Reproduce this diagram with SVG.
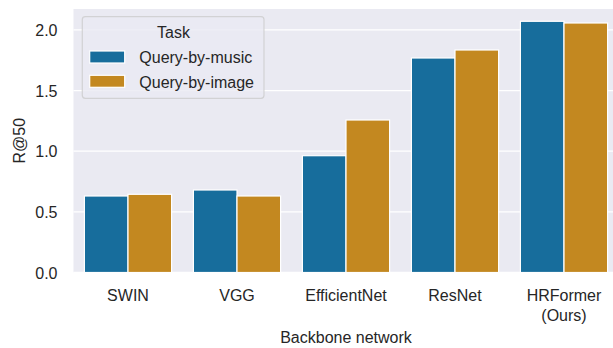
<svg xmlns="http://www.w3.org/2000/svg" width="613" height="348" viewBox="0 0 613 348">
<style>
text{font-family:"Liberation Sans",Arial,sans-serif;font-size:16px;fill:#262626}
.grid{stroke:#ffffff;stroke-width:1.3}
.bar{stroke:#ffffff;stroke-width:1.2}
.m{fill:#176D9C}
.i{fill:#C38820}
.yt{text-anchor:end}
.xt{text-anchor:middle}
</style>
<rect x="0" y="0" width="613" height="348" fill="#ffffff"/>
<g id="axes">
<rect x="73.5" y="9" width="540" height="263.5" fill="#EAEAF2"/>
<g id="gridlines">
<line class="grid" x1="73.5" y1="272.5" x2="613" y2="272.5"/>
<line class="grid" x1="73.5" y1="211.9" x2="613" y2="211.9"/>
<line class="grid" x1="73.5" y1="151.2" x2="613" y2="151.2"/>
<line class="grid" x1="73.5" y1="90.6" x2="613" y2="90.6"/>
<line class="grid" x1="73.5" y1="29.9" x2="613" y2="29.9"/>
</g>
<g id="yticks">
<text class="yt" x="57.5" y="278.5">0.0</text>
<text class="yt" x="57.5" y="217.9">0.5</text>
<text class="yt" x="57.5" y="157.2">1.0</text>
<text class="yt" x="57.5" y="96.6">1.5</text>
<text class="yt" x="57.5" y="35.9">2.0</text>
</g>
<text id="ylabel" x="25" y="140.7" text-anchor="middle" transform="rotate(-90 25 140.7)">R@50</text>
</g>
<g id="bar-SWIN">
<rect class="bar m" x="84.4" y="196" width="43.6" height="76.5"/>
<rect class="bar i" x="128" y="194.3" width="43.6" height="78.2"/>
<text class="xt" x="128" y="301">SWIN</text>
</g>
<g id="bar-VGG">
<rect class="bar m" x="193.4" y="190" width="43.6" height="82.5"/>
<rect class="bar i" x="237" y="196" width="43.6" height="76.5"/>
<text class="xt" x="237" y="301">VGG</text>
</g>
<g id="bar-EfficientNet">
<rect class="bar m" x="302.4" y="155.7" width="43.6" height="116.8"/>
<rect class="bar i" x="346" y="120" width="43.6" height="152.5"/>
<text class="xt" x="346" y="301">EfficientNet</text>
</g>
<g id="bar-ResNet">
<rect class="bar m" x="411.4" y="58" width="43.6" height="214.5"/>
<rect class="bar i" x="455" y="50" width="43.6" height="222.5"/>
<text class="xt" x="455" y="301">ResNet</text>
</g>
<g id="bar-HRFormer">
<rect class="bar m" x="520.4" y="21.3" width="43.6" height="251.2"/>
<rect class="bar i" x="564" y="23" width="43.6" height="249.5"/>
<text class="xt" x="564" y="301">HRFormer</text>
<text class="xt" x="564" y="320.5">(Ours)</text>
</g>
<text id="xlabel" x="346" y="343.3" text-anchor="middle">Backbone network</text>
<g id="legend">
<rect x="82.3" y="16.7" width="181.7" height="81.6" rx="3" fill="#EAEAF2" fill-opacity="0.8" stroke="#CCCCCC" stroke-opacity="0.8" stroke-width="1.2"/>
<text x="173.5" y="37.7" text-anchor="middle">Task</text>
<rect class="bar m" x="89.7" y="51" width="35" height="12"/>
<text x="139.3" y="63.2">Query-by-music</text>
<rect class="bar i" x="89.7" y="75.3" width="35" height="12"/>
<text x="139.3" y="87.7">Query-by-image</text>
</g>
</svg>
